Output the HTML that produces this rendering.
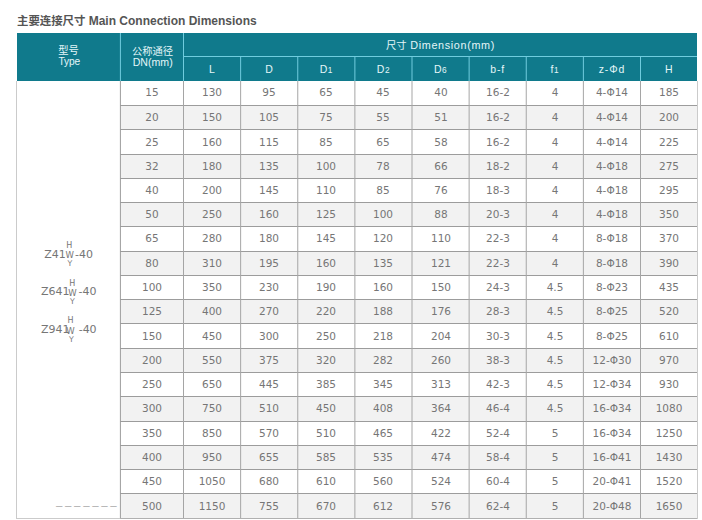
<!DOCTYPE html>
<html><head><meta charset="utf-8"><title>Main Connection Dimensions</title>
<style>
*{margin:0;padding:0;box-sizing:border-box}
html,body{width:702px;height:520px;background:#fff;overflow:hidden}
body{position:relative;font-family:"Liberation Sans","Noto Sans CJK SC",sans-serif}
.a{position:absolute}
.t{position:absolute;left:17px;top:13px;font:bold 12px/16px "Liberation Sans","Noto Sans CJK SC",sans-serif;color:#555;white-space:nowrap}
.t .cn{font-size:11.4px}
.h{position:absolute;color:#e4f6f8;font:11px/12px "Liberation Sans","Noto Sans CJK SC",sans-serif;text-align:center;white-space:nowrap}
.h .cn{font-size:10.3px}
.h sub{font-size:8.3px;vertical-align:baseline}
.c{position:absolute;color:#767676;font:10.5px/12px "DejaVu Sans",sans-serif;text-align:center;white-space:nowrap}
.lbl{position:absolute;color:#767676;font-family:"DejaVu Sans",sans-serif;white-space:nowrap}
.st{display:inline-block;position:relative;text-align:center;font-size:8.5px}
.st b{position:absolute;left:0;width:100%;font-weight:normal;font-size:7px;line-height:7px}
</style></head><body>

<div class="t"><span class="cn">主要连接尺寸</span> Main Connection Dimensions</div>
<div class="a" style="left:17px;top:33px;width:680px;height:48px;background:#107a8c"></div>
<div class="a" style="left:119px;top:33px;width:1px;height:48px;background:rgba(112,204,222,0.100)"></div>
<div class="a" style="left:120px;top:33px;width:1px;height:48px;background:rgba(112,204,222,0.900)"></div>
<div class="a" style="left:183px;top:33px;width:1px;height:48px;background:rgba(112,204,222,1.000)"></div>
<div class="a" style="left:184px;top:56px;width:513px;height:1px;background:rgba(112,204,222,1.000)"></div>
<div class="a" style="left:240px;top:57px;width:1px;height:24px;background:rgba(112,204,222,0.875)"></div>
<div class="a" style="left:241px;top:57px;width:1px;height:24px;background:rgba(112,204,222,0.125)"></div>
<div class="a" style="left:297px;top:57px;width:1px;height:24px;background:rgba(112,204,222,0.750)"></div>
<div class="a" style="left:298px;top:57px;width:1px;height:24px;background:rgba(112,204,222,0.250)"></div>
<div class="a" style="left:354px;top:57px;width:1px;height:24px;background:rgba(112,204,222,0.625)"></div>
<div class="a" style="left:355px;top:57px;width:1px;height:24px;background:rgba(112,204,222,0.375)"></div>
<div class="a" style="left:411px;top:57px;width:1px;height:24px;background:rgba(112,204,222,0.500)"></div>
<div class="a" style="left:412px;top:57px;width:1px;height:24px;background:rgba(112,204,222,0.500)"></div>
<div class="a" style="left:468px;top:57px;width:1px;height:24px;background:rgba(112,204,222,0.375)"></div>
<div class="a" style="left:469px;top:57px;width:1px;height:24px;background:rgba(112,204,222,0.625)"></div>
<div class="a" style="left:525px;top:57px;width:1px;height:24px;background:rgba(112,204,222,0.250)"></div>
<div class="a" style="left:526px;top:57px;width:1px;height:24px;background:rgba(112,204,222,0.750)"></div>
<div class="a" style="left:582px;top:57px;width:1px;height:24px;background:rgba(112,204,222,0.125)"></div>
<div class="a" style="left:583px;top:57px;width:1px;height:24px;background:rgba(112,204,222,0.875)"></div>
<div class="a" style="left:640px;top:57px;width:1px;height:24px;background:rgba(112,204,222,1.000)"></div>
<div class="h" style="left:-31.40px;top:44.00px;width:200px;"><span class="cn">型号</span></div>
<div class="h" style="left:-30.70px;top:56.00px;width:200px;font-size:10.2px;letter-spacing:-0.1px">Type</div>
<div class="h" style="left:52.50px;top:44.50px;width:200px;"><span class="cn">公称通径</span></div>
<div class="h" style="left:52.70px;top:55.50px;width:200px;font-size:10.6px">DN(mm)</div>
<div class="h" style="left:340.50px;top:38.50px;width:200px;letter-spacing:0.65px;font-size:10.8px"><span class="cn" style="letter-spacing:0">尺寸</span> Dimension(mm)</div>
<div class="h" style="left:112.06px;top:63.30px;width:200px;font-size:10.5px;letter-spacing:0.5px">L</div>
<div class="h" style="left:169.19px;top:63.30px;width:200px;font-size:10.5px;letter-spacing:0.5px">D</div>
<div class="h" style="left:226.31px;top:63.30px;width:200px;font-size:10.5px;letter-spacing:0.5px">D<sub>1</sub></div>
<div class="h" style="left:283.44px;top:63.30px;width:200px;font-size:10.5px;letter-spacing:0.5px">D<sub>2</sub></div>
<div class="h" style="left:340.56px;top:63.30px;width:200px;font-size:10.5px;letter-spacing:0.5px">D<sub>6</sub></div>
<div class="h" style="left:397.69px;top:63.30px;width:200px;font-size:10.5px;letter-spacing:0.9px">b-f</div>
<div class="h" style="left:454.81px;top:63.30px;width:200px;font-size:10.5px;letter-spacing:0.5px">f<sub>1</sub></div>
<div class="h" style="left:511.94px;top:63.30px;width:200px;font-size:10.5px;letter-spacing:0.9px">z-Φd</div>
<div class="h" style="left:569.00px;top:63.30px;width:200px;font-size:10.5px;letter-spacing:0.5px">H</div>
<div class="a" style="left:121px;top:106px;width:576px;height:23px;background:#f2f2f2"></div>
<div class="a" style="left:121px;top:155px;width:576px;height:23px;background:#f2f2f2"></div>
<div class="a" style="left:121px;top:203px;width:576px;height:23px;background:#f2f2f2"></div>
<div class="a" style="left:121px;top:252px;width:576px;height:23px;background:#f2f2f2"></div>
<div class="a" style="left:121px;top:300px;width:576px;height:23px;background:#f2f2f2"></div>
<div class="a" style="left:121px;top:349px;width:576px;height:23px;background:#f2f2f2"></div>
<div class="a" style="left:121px;top:397px;width:576px;height:24px;background:#f2f2f2"></div>
<div class="a" style="left:121px;top:446px;width:576px;height:23px;background:#f2f2f2"></div>
<div class="a" style="left:121px;top:494px;width:576px;height:24px;background:#f2f2f2"></div>
<div class="a" style="left:120px;top:105px;width:577px;height:1px;background:rgba(156,156,156,1.000)"></div>
<div class="a" style="left:120px;top:129px;width:577px;height:1px;background:rgba(156,156,156,1.000)"></div>
<div class="a" style="left:120px;top:154px;width:577px;height:1px;background:rgba(156,156,156,1.000)"></div>
<div class="a" style="left:120px;top:178px;width:577px;height:1px;background:rgba(156,156,156,1.000)"></div>
<div class="a" style="left:120px;top:202px;width:577px;height:1px;background:rgba(156,156,156,1.000)"></div>
<div class="a" style="left:120px;top:226px;width:577px;height:1px;background:rgba(156,156,156,1.000)"></div>
<div class="a" style="left:120px;top:251px;width:577px;height:1px;background:rgba(156,156,156,1.000)"></div>
<div class="a" style="left:120px;top:275px;width:577px;height:1px;background:rgba(156,156,156,1.000)"></div>
<div class="a" style="left:120px;top:299px;width:577px;height:1px;background:rgba(156,156,156,1.000)"></div>
<div class="a" style="left:120px;top:323px;width:577px;height:1px;background:rgba(156,156,156,1.000)"></div>
<div class="a" style="left:120px;top:348px;width:577px;height:1px;background:rgba(156,156,156,1.000)"></div>
<div class="a" style="left:120px;top:372px;width:577px;height:1px;background:rgba(156,156,156,1.000)"></div>
<div class="a" style="left:120px;top:396px;width:577px;height:1px;background:rgba(156,156,156,1.000)"></div>
<div class="a" style="left:120px;top:421px;width:577px;height:1px;background:rgba(156,156,156,1.000)"></div>
<div class="a" style="left:120px;top:445px;width:577px;height:1px;background:rgba(156,156,156,1.000)"></div>
<div class="a" style="left:120px;top:469px;width:577px;height:1px;background:rgba(156,156,156,1.000)"></div>
<div class="a" style="left:120px;top:493px;width:577px;height:1px;background:rgba(156,156,156,1.000)"></div>
<div class="a" style="left:119px;top:81px;width:1px;height:437px;background:rgba(156,156,156,0.100)"></div>
<div class="a" style="left:120px;top:81px;width:1px;height:437px;background:rgba(156,156,156,0.900)"></div>
<div class="a" style="left:183px;top:81px;width:1px;height:437px;background:rgba(165,165,165,1.000)"></div>
<div class="a" style="left:240px;top:81px;width:1px;height:437px;background:rgba(165,165,165,0.875)"></div>
<div class="a" style="left:241px;top:81px;width:1px;height:437px;background:rgba(165,165,165,0.125)"></div>
<div class="a" style="left:297px;top:81px;width:1px;height:437px;background:rgba(165,165,165,0.750)"></div>
<div class="a" style="left:298px;top:81px;width:1px;height:437px;background:rgba(165,165,165,0.250)"></div>
<div class="a" style="left:354px;top:81px;width:1px;height:437px;background:rgba(165,165,165,0.625)"></div>
<div class="a" style="left:355px;top:81px;width:1px;height:437px;background:rgba(165,165,165,0.375)"></div>
<div class="a" style="left:411px;top:81px;width:1px;height:437px;background:rgba(165,165,165,0.500)"></div>
<div class="a" style="left:412px;top:81px;width:1px;height:437px;background:rgba(165,165,165,0.500)"></div>
<div class="a" style="left:468px;top:81px;width:1px;height:437px;background:rgba(165,165,165,0.375)"></div>
<div class="a" style="left:469px;top:81px;width:1px;height:437px;background:rgba(165,165,165,0.625)"></div>
<div class="a" style="left:525px;top:81px;width:1px;height:437px;background:rgba(165,165,165,0.250)"></div>
<div class="a" style="left:526px;top:81px;width:1px;height:437px;background:rgba(165,165,165,0.750)"></div>
<div class="a" style="left:582px;top:81px;width:1px;height:437px;background:rgba(165,165,165,0.125)"></div>
<div class="a" style="left:583px;top:81px;width:1px;height:437px;background:rgba(165,165,165,0.875)"></div>
<div class="a" style="left:640px;top:81px;width:1px;height:437px;background:rgba(165,165,165,1.000)"></div>
<div class="a" style="left:16px;top:81px;width:1px;height:438px;background:#cbcbcb"></div>
<div class="a" style="left:697px;top:81px;width:1px;height:438px;background:#cbcbcb"></div>
<div class="a" style="left:16px;top:518px;width:104px;height:1px;background:#cbcbcb"></div>
<div class="a" style="left:120px;top:518px;width:577px;height:1px;background:rgba(156,156,156,0.800)"></div>
<div class="c" style="left:52px;top:86px;width:200px">15</div>
<div class="c" style="left:112px;top:86px;width:200px">130</div>
<div class="c" style="left:169px;top:86px;width:200px">95</div>
<div class="c" style="left:226px;top:86px;width:200px">65</div>
<div class="c" style="left:283px;top:86px;width:200px">45</div>
<div class="c" style="left:341px;top:86px;width:200px">40</div>
<div class="c" style="left:398px;top:86px;width:200px">16-2</div>
<div class="c" style="left:455px;top:86px;width:200px">4</div>
<div class="c" style="left:512px;top:86px;width:200px">4-Φ14</div>
<div class="c" style="left:569px;top:86px;width:200px">185</div>
<div class="c" style="left:52px;top:111px;width:200px">20</div>
<div class="c" style="left:112px;top:111px;width:200px">150</div>
<div class="c" style="left:169px;top:111px;width:200px">105</div>
<div class="c" style="left:226px;top:111px;width:200px">75</div>
<div class="c" style="left:283px;top:111px;width:200px">55</div>
<div class="c" style="left:341px;top:111px;width:200px">51</div>
<div class="c" style="left:398px;top:111px;width:200px">16-2</div>
<div class="c" style="left:455px;top:111px;width:200px">4</div>
<div class="c" style="left:512px;top:111px;width:200px">4-Φ14</div>
<div class="c" style="left:569px;top:111px;width:200px">200</div>
<div class="c" style="left:52px;top:136px;width:200px">25</div>
<div class="c" style="left:112px;top:136px;width:200px">160</div>
<div class="c" style="left:169px;top:136px;width:200px">115</div>
<div class="c" style="left:226px;top:136px;width:200px">85</div>
<div class="c" style="left:283px;top:136px;width:200px">65</div>
<div class="c" style="left:341px;top:136px;width:200px">58</div>
<div class="c" style="left:398px;top:136px;width:200px">16-2</div>
<div class="c" style="left:455px;top:136px;width:200px">4</div>
<div class="c" style="left:512px;top:136px;width:200px">4-Φ14</div>
<div class="c" style="left:569px;top:136px;width:200px">225</div>
<div class="c" style="left:52px;top:160px;width:200px">32</div>
<div class="c" style="left:112px;top:160px;width:200px">180</div>
<div class="c" style="left:169px;top:160px;width:200px">135</div>
<div class="c" style="left:226px;top:160px;width:200px">100</div>
<div class="c" style="left:283px;top:160px;width:200px">78</div>
<div class="c" style="left:341px;top:160px;width:200px">66</div>
<div class="c" style="left:398px;top:160px;width:200px">18-2</div>
<div class="c" style="left:455px;top:160px;width:200px">4</div>
<div class="c" style="left:512px;top:160px;width:200px">4-Φ18</div>
<div class="c" style="left:569px;top:160px;width:200px">275</div>
<div class="c" style="left:52px;top:184px;width:200px">40</div>
<div class="c" style="left:112px;top:184px;width:200px">200</div>
<div class="c" style="left:169px;top:184px;width:200px">145</div>
<div class="c" style="left:226px;top:184px;width:200px">110</div>
<div class="c" style="left:283px;top:184px;width:200px">85</div>
<div class="c" style="left:341px;top:184px;width:200px">76</div>
<div class="c" style="left:398px;top:184px;width:200px">18-3</div>
<div class="c" style="left:455px;top:184px;width:200px">4</div>
<div class="c" style="left:512px;top:184px;width:200px">4-Φ18</div>
<div class="c" style="left:569px;top:184px;width:200px">295</div>
<div class="c" style="left:52px;top:208px;width:200px">50</div>
<div class="c" style="left:112px;top:208px;width:200px">250</div>
<div class="c" style="left:169px;top:208px;width:200px">160</div>
<div class="c" style="left:226px;top:208px;width:200px">125</div>
<div class="c" style="left:283px;top:208px;width:200px">100</div>
<div class="c" style="left:341px;top:208px;width:200px">88</div>
<div class="c" style="left:398px;top:208px;width:200px">20-3</div>
<div class="c" style="left:455px;top:208px;width:200px">4</div>
<div class="c" style="left:512px;top:208px;width:200px">4-Φ18</div>
<div class="c" style="left:569px;top:208px;width:200px">350</div>
<div class="c" style="left:52px;top:232px;width:200px">65</div>
<div class="c" style="left:112px;top:232px;width:200px">280</div>
<div class="c" style="left:169px;top:232px;width:200px">180</div>
<div class="c" style="left:226px;top:232px;width:200px">145</div>
<div class="c" style="left:283px;top:232px;width:200px">120</div>
<div class="c" style="left:341px;top:232px;width:200px">110</div>
<div class="c" style="left:398px;top:232px;width:200px">22-3</div>
<div class="c" style="left:455px;top:232px;width:200px">4</div>
<div class="c" style="left:512px;top:232px;width:200px">8-Φ18</div>
<div class="c" style="left:569px;top:232px;width:200px">370</div>
<div class="c" style="left:52px;top:257px;width:200px">80</div>
<div class="c" style="left:112px;top:257px;width:200px">310</div>
<div class="c" style="left:169px;top:257px;width:200px">195</div>
<div class="c" style="left:226px;top:257px;width:200px">160</div>
<div class="c" style="left:283px;top:257px;width:200px">135</div>
<div class="c" style="left:341px;top:257px;width:200px">121</div>
<div class="c" style="left:398px;top:257px;width:200px">22-3</div>
<div class="c" style="left:455px;top:257px;width:200px">4</div>
<div class="c" style="left:512px;top:257px;width:200px">8-Φ18</div>
<div class="c" style="left:569px;top:257px;width:200px">390</div>
<div class="c" style="left:52px;top:281px;width:200px">100</div>
<div class="c" style="left:112px;top:281px;width:200px">350</div>
<div class="c" style="left:169px;top:281px;width:200px">230</div>
<div class="c" style="left:226px;top:281px;width:200px">190</div>
<div class="c" style="left:283px;top:281px;width:200px">160</div>
<div class="c" style="left:341px;top:281px;width:200px">150</div>
<div class="c" style="left:398px;top:281px;width:200px">24-3</div>
<div class="c" style="left:455px;top:281px;width:200px">4.5</div>
<div class="c" style="left:512px;top:281px;width:200px">8-Φ23</div>
<div class="c" style="left:569px;top:281px;width:200px">435</div>
<div class="c" style="left:52px;top:305px;width:200px">125</div>
<div class="c" style="left:112px;top:305px;width:200px">400</div>
<div class="c" style="left:169px;top:305px;width:200px">270</div>
<div class="c" style="left:226px;top:305px;width:200px">220</div>
<div class="c" style="left:283px;top:305px;width:200px">188</div>
<div class="c" style="left:341px;top:305px;width:200px">176</div>
<div class="c" style="left:398px;top:305px;width:200px">28-3</div>
<div class="c" style="left:455px;top:305px;width:200px">4.5</div>
<div class="c" style="left:512px;top:305px;width:200px">8-Φ25</div>
<div class="c" style="left:569px;top:305px;width:200px">520</div>
<div class="c" style="left:52px;top:330px;width:200px">150</div>
<div class="c" style="left:112px;top:330px;width:200px">450</div>
<div class="c" style="left:169px;top:330px;width:200px">300</div>
<div class="c" style="left:226px;top:330px;width:200px">250</div>
<div class="c" style="left:283px;top:330px;width:200px">218</div>
<div class="c" style="left:341px;top:330px;width:200px">204</div>
<div class="c" style="left:398px;top:330px;width:200px">30-3</div>
<div class="c" style="left:455px;top:330px;width:200px">4.5</div>
<div class="c" style="left:512px;top:330px;width:200px">8-Φ25</div>
<div class="c" style="left:569px;top:330px;width:200px">610</div>
<div class="c" style="left:52px;top:354px;width:200px">200</div>
<div class="c" style="left:112px;top:354px;width:200px">550</div>
<div class="c" style="left:169px;top:354px;width:200px">375</div>
<div class="c" style="left:226px;top:354px;width:200px">320</div>
<div class="c" style="left:283px;top:354px;width:200px">282</div>
<div class="c" style="left:341px;top:354px;width:200px">260</div>
<div class="c" style="left:398px;top:354px;width:200px">38-3</div>
<div class="c" style="left:455px;top:354px;width:200px">4.5</div>
<div class="c" style="left:512px;top:354px;width:200px">12-Φ30</div>
<div class="c" style="left:569px;top:354px;width:200px">970</div>
<div class="c" style="left:52px;top:378px;width:200px">250</div>
<div class="c" style="left:112px;top:378px;width:200px">650</div>
<div class="c" style="left:169px;top:378px;width:200px">445</div>
<div class="c" style="left:226px;top:378px;width:200px">385</div>
<div class="c" style="left:283px;top:378px;width:200px">345</div>
<div class="c" style="left:341px;top:378px;width:200px">313</div>
<div class="c" style="left:398px;top:378px;width:200px">42-3</div>
<div class="c" style="left:455px;top:378px;width:200px">4.5</div>
<div class="c" style="left:512px;top:378px;width:200px">12-Φ34</div>
<div class="c" style="left:569px;top:378px;width:200px">930</div>
<div class="c" style="left:52px;top:402px;width:200px">300</div>
<div class="c" style="left:112px;top:402px;width:200px">750</div>
<div class="c" style="left:169px;top:402px;width:200px">510</div>
<div class="c" style="left:226px;top:402px;width:200px">450</div>
<div class="c" style="left:283px;top:402px;width:200px">408</div>
<div class="c" style="left:341px;top:402px;width:200px">364</div>
<div class="c" style="left:398px;top:402px;width:200px">46-4</div>
<div class="c" style="left:455px;top:402px;width:200px">4.5</div>
<div class="c" style="left:512px;top:402px;width:200px">16-Φ34</div>
<div class="c" style="left:569px;top:402px;width:200px">1080</div>
<div class="c" style="left:52px;top:427px;width:200px">350</div>
<div class="c" style="left:112px;top:427px;width:200px">850</div>
<div class="c" style="left:169px;top:427px;width:200px">570</div>
<div class="c" style="left:226px;top:427px;width:200px">510</div>
<div class="c" style="left:283px;top:427px;width:200px">465</div>
<div class="c" style="left:341px;top:427px;width:200px">422</div>
<div class="c" style="left:398px;top:427px;width:200px">52-4</div>
<div class="c" style="left:455px;top:427px;width:200px">5</div>
<div class="c" style="left:512px;top:427px;width:200px">16-Φ34</div>
<div class="c" style="left:569px;top:427px;width:200px">1250</div>
<div class="c" style="left:52px;top:451px;width:200px">400</div>
<div class="c" style="left:112px;top:451px;width:200px">950</div>
<div class="c" style="left:169px;top:451px;width:200px">655</div>
<div class="c" style="left:226px;top:451px;width:200px">585</div>
<div class="c" style="left:283px;top:451px;width:200px">535</div>
<div class="c" style="left:341px;top:451px;width:200px">474</div>
<div class="c" style="left:398px;top:451px;width:200px">58-4</div>
<div class="c" style="left:455px;top:451px;width:200px">5</div>
<div class="c" style="left:512px;top:451px;width:200px">16-Φ41</div>
<div class="c" style="left:569px;top:451px;width:200px">1430</div>
<div class="c" style="left:52px;top:475px;width:200px">450</div>
<div class="c" style="left:112px;top:475px;width:200px">1050</div>
<div class="c" style="left:169px;top:475px;width:200px">680</div>
<div class="c" style="left:226px;top:475px;width:200px">610</div>
<div class="c" style="left:283px;top:475px;width:200px">560</div>
<div class="c" style="left:341px;top:475px;width:200px">524</div>
<div class="c" style="left:398px;top:475px;width:200px">60-4</div>
<div class="c" style="left:455px;top:475px;width:200px">5</div>
<div class="c" style="left:512px;top:475px;width:200px">20-Φ41</div>
<div class="c" style="left:569px;top:475px;width:200px">1520</div>
<div class="c" style="left:52px;top:500px;width:200px">500</div>
<div class="c" style="left:112px;top:500px;width:200px">1150</div>
<div class="c" style="left:169px;top:500px;width:200px">755</div>
<div class="c" style="left:226px;top:500px;width:200px">670</div>
<div class="c" style="left:283px;top:500px;width:200px">612</div>
<div class="c" style="left:341px;top:500px;width:200px">576</div>
<div class="c" style="left:398px;top:500px;width:200px">62-4</div>
<div class="c" style="left:455px;top:500px;width:200px">5</div>
<div class="c" style="left:512px;top:500px;width:200px">20-Φ48</div>
<div class="c" style="left:569px;top:500px;width:200px">1650</div>
<div class="lbl" style="left:44.31px;top:248.69px;font-size:11.0px;line-height:11.0px">Z41</div>
<div class="lbl" style="left:65.52px;top:250.81px;font-size:8.5px;line-height:8.5px">W</div>
<div class="lbl" style="left:74.96px;top:248.69px;font-size:11.0px;line-height:11.0px">-40</div>
<div class="lbl" style="left:66.22px;top:241.86px;font-size:8.0px;line-height:8.0px">H</div>
<div class="lbl" style="left:67.62px;top:259.89px;font-size:7.8px;line-height:7.8px">Y</div>
<div class="lbl" style="left:41.01px;top:286.49px;font-size:11.0px;line-height:11.0px">Z641</div>
<div class="lbl" style="left:68.22px;top:288.61px;font-size:8.5px;line-height:8.5px">W</div>
<div class="lbl" style="left:78.46px;top:286.49px;font-size:11.0px;line-height:11.0px">-40</div>
<div class="lbl" style="left:69.22px;top:279.86px;font-size:8.0px;line-height:8.0px">H</div>
<div class="lbl" style="left:70.02px;top:298.09px;font-size:7.8px;line-height:7.8px">Y</div>
<div class="lbl" style="left:41.01px;top:324.49px;font-size:11.0px;line-height:11.0px">Z941</div>
<div class="lbl" style="left:66.22px;top:326.61px;font-size:8.5px;line-height:8.5px">W</div>
<div class="lbl" style="left:78.66px;top:324.49px;font-size:11.0px;line-height:11.0px">-40</div>
<div class="lbl" style="left:67.42px;top:317.26px;font-size:8.0px;line-height:8.0px">H</div>
<div class="lbl" style="left:69.02px;top:336.39px;font-size:7.8px;line-height:7.8px">Y</div>
<div class="a" style="left:56px;top:499px;color:#a8a8a8;font:11.5px/12px 'Liberation Sans',sans-serif;letter-spacing:2.65px;white-space:nowrap">–––––––</div>
</body></html>
